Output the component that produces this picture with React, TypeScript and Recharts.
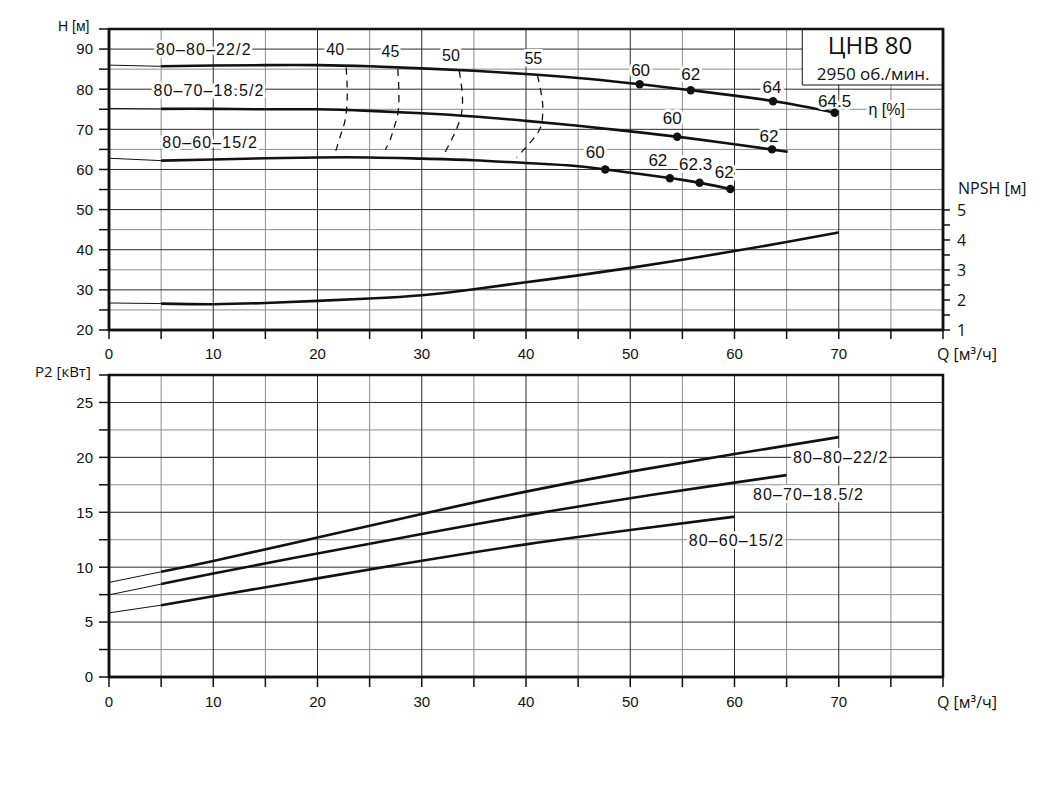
import React from "react";
import { ComposedChart, Line, XAxis, YAxis, CartesianGrid, ReferenceArea } from "recharts";

// ---- axes ----
const qTicks = [0, 5, 10, 15, 20, 25, 30, 35, 40, 45, 50, 55, 60, 65, 70, 75, 80];
const qMajor = [10, 20, 30, 40, 50, 60, 70];
const qMinor = [5, 15, 25, 35, 45, 55, 65, 75];
const hTicks = [20, 25, 30, 35, 40, 45, 50, 55, 60, 65, 70, 75, 80, 85, 90, 95];
const hMajor = [30, 40, 50, 60, 70, 80, 90];
const hMinor = [25, 35, 45, 55, 65, 75, 85];
const npshTicks = [1, 1.5, 2, 2.5, 3, 3.5, 4, 4.5, 5];
const pTicks = [0, 2.5, 5, 7.5, 10, 12.5, 15, 17.5, 20, 22.5, 25, 27.5];
const pMajor = [5, 10, 15, 20, 25];
const pMinor = [2.5, 7.5, 12.5, 17.5, 22.5];

// ---- H(Q) curves ----
const h22Lead = [{ q: 0, h: 86.0 }, { q: 5, h: 85.7 }];
const h22 = [
  { q: 5, h: 85.7 }, { q: 10, h: 85.9 }, { q: 15, h: 86.0 }, { q: 20, h: 86.0 },
  { q: 25, h: 85.7 }, { q: 30, h: 85.2 }, { q: 35, h: 84.6 }, { q: 40, h: 83.8 },
  { q: 45, h: 82.8 }, { q: 50, h: 81.5 }, { q: 55, h: 80.0 }, { q: 60, h: 78.4 },
  { q: 65, h: 76.5 }, { q: 69.6, h: 74.15 },
];
const h185Lead = [{ q: 0, h: 75.2 }, { q: 5, h: 75.1 }];
const h185 = [
  { q: 5, h: 75.1 }, { q: 10, h: 75.1 }, { q: 15, h: 75.0 }, { q: 20, h: 75.0 },
  { q: 25, h: 74.6 }, { q: 30, h: 74.0 }, { q: 35, h: 73.2 }, { q: 40, h: 72.1 },
  { q: 45, h: 70.9 }, { q: 50, h: 69.5 }, { q: 55, h: 68.0 }, { q: 60, h: 66.3 },
  { q: 65.1, h: 64.4 },
];
const h15Lead = [{ q: 0, h: 62.8 }, { q: 5, h: 62.2 }];
const h15 = [
  { q: 5, h: 62.2 }, { q: 10, h: 62.5 }, { q: 15, h: 62.8 }, { q: 20, h: 63.0 },
  { q: 25, h: 63.0 }, { q: 30, h: 62.7 }, { q: 35, h: 62.3 }, { q: 40, h: 61.6 },
  { q: 45, h: 60.8 }, { q: 50, h: 59.2 }, { q: 55, h: 57.4 }, { q: 59.6, h: 55.15 },
];

// ---- efficiency points ----
const eff22 = [
  { q: 50.9, h: 81.25, eta: "60" }, { q: 55.8, h: 79.75, eta: "62" },
  { q: 63.7, h: 77.0, eta: "64" }, { q: 69.6, h: 74.15, eta: "64.5" },
];
const eff185 = [{ q: 54.5, h: 68.15, eta: "60" }, { q: 63.6, h: 65.0, eta: "62" }];
const eff15 = [
  { q: 47.6, h: 60.0, eta: "60" }, { q: 53.8, h: 57.8, eta: "62" },
  { q: 56.65, h: 56.7, eta: "62.3" }, { q: 59.6, h: 55.15, eta: "62" },
];
// label offsets (px) relative to each dot
const eff22Off = [[1, -14], [0, -16], [-1, -14], [0, -11]];
const eff185Off = [[-5, -18], [-3, -13]];
const eff15Off = [[-10, -17], [-12, -18], [-4, -18], [-6, -16]];

// ---- iso-efficiency lines ----
const iso40 = [
  { q: 22.75, h: 85.4 }, { q: 22.85, h: 80.0 }, { q: 22.8, h: 75.2 },
  { q: 22.6, h: 71.7 }, { q: 22.2, h: 68.4 }, { q: 21.6, h: 63.2 },
];
const iso45 = [
  { q: 27.7, h: 85.0 }, { q: 27.8, h: 80.0 }, { q: 27.75, h: 74.6 },
  { q: 27.4, h: 70.9 }, { q: 27.0, h: 67.6 }, { q: 26.5, h: 64.9 },
];
const iso50 = [
  { q: 33.6, h: 84.6 }, { q: 33.9, h: 78.4 }, { q: 33.8, h: 73.8 },
  { q: 33.4, h: 70.5 }, { q: 32.9, h: 67.6 }, { q: 32.2, h: 64.1 },
];
const iso55 = [
  { q: 41.1, h: 83.5 }, { q: 41.55, h: 77.5 }, { q: 41.6, h: 73.8 },
  { q: 41.4, h: 70.5 }, { q: 40.7, h: 67.6 }, { q: 40.0, h: 65.5 }, { q: 39.1, h: 63.0 },
];
const isoLabels = [
  { q: 21.7, h: 90.0, text: "40" }, { q: 27.0, h: 89.4, text: "45" },
  { q: 32.8, h: 88.4, text: "50" }, { q: 40.7, h: 87.6, text: "55" },
];
const modelLabelsTop = [
  { q: 9.1, h: 90.0, text: "80–80–22/2" },
  { q: 9.6, h: 79.8, text: "80–70–18.5/2" },
  { q: 9.7, h: 66.6, text: "80–60–15/2" },
];
const etaLabel = [{ q: 74.6, h: 75.0, text: "η [%]" }];
const boxTitle = [{ q: 73.0, h: 91.2, text: "ЦНВ 80" }];
const boxSpeed = [{ q: 73.3, h: 84.0, text: "2950 об./мин." }];

// ---- NPSH ----
const npshLead = [{ q: 0, n: 1.9 }, { q: 5, n: 1.88 }];
const npsh = [
  { q: 5, n: 1.88 }, { q: 10, n: 1.86 }, { q: 15, n: 1.9 }, { q: 20, n: 1.97 },
  { q: 25, n: 2.05 }, { q: 30, n: 2.16 }, { q: 35, n: 2.36 }, { q: 40, n: 2.59 },
  { q: 45, n: 2.82 }, { q: 50, n: 3.07 }, { q: 55, n: 3.34 }, { q: 60, n: 3.63 },
  { q: 65, n: 3.93 }, { q: 70, n: 4.25 },
];

// ---- P2 ----
const p22Lead = [{ q: 0, p: 8.61 }, { q: 5, p: 9.58 }];
const p22 = [
  { q: 5, p: 9.58 }, { q: 10, p: 10.56 }, { q: 20, p: 12.7 }, { q: 30, p: 14.84 },
  { q: 40, p: 16.88 }, { q: 50, p: 18.7 }, { q: 60, p: 20.3 }, { q: 70, p: 21.84 },
];
const p185Lead = [{ q: 0, p: 7.48 }, { q: 5, p: 8.46 }];
const p185 = [
  { q: 5, p: 8.46 }, { q: 10, p: 9.43 }, { q: 20, p: 11.25 }, { q: 30, p: 13.02 },
  { q: 40, p: 14.72 }, { q: 50, p: 16.28 }, { q: 60, p: 17.7 }, { q: 65, p: 18.38 },
];
const p15Lead = [{ q: 0, p: 5.84 }, { q: 5, p: 6.54 }];
const p15 = [
  { q: 5, p: 6.54 }, { q: 10, p: 7.36 }, { q: 20, p: 8.98 }, { q: 30, p: 10.58 },
  { q: 40, p: 12.08 }, { q: 50, p: 13.38 }, { q: 60, p: 14.6 },
];
const modelLabelsBottom = [
  { q: 70.2, p: 19.96, text: "80–80–22/2" },
  { q: 67.1, p: 16.6, text: "80–70–18.5/2" },
  { q: 60.2, p: 12.45, text: "80–60–15/2" },
];

const INK = "#111";
const SANS = "'Liberation Sans', Arial, sans-serif";
const MYRIAD = "'Open Sans', 'Noto Sans', sans-serif";

const halo = { stroke: "#fff", strokeWidth: 6, paintOrder: "stroke" as const, strokeLinejoin: "round" as const };

function textDot(size: number, font: string, spacing = 0, withHalo = true) {
  return (props: any) => {
    const { cx, cy, payload, index } = props;
    if (cx == null || cy == null) return <g key={`t${index}`} />;
    return (
      <text
        key={`t${index}`}
        x={cx}
        y={cy}
        textAnchor="middle"
        dominantBaseline="central"
        fontSize={size}
        fontFamily={font}
        letterSpacing={spacing}
        fill={INK}
        {...(withHalo ? halo : {})}
      >
        {payload.text}
      </text>
    );
  };
}

function effDot(offsets: number[][]) {
  return (props: any) => {
    const { cx, cy, payload, index } = props;
    if (cx == null || cy == null) return <g key={`e${index}`} />;
    const [dx, dy] = offsets[index] ?? [0, -15];
    return (
      <g key={`e${index}`}>
        <text
          x={cx + dx}
          y={cy + dy}
          textAnchor="middle"
          dominantBaseline="central"
          fontSize={17}
          fontFamily={SANS}
          fill={INK}
          {...halo}
        >
          {payload.eta}
        </text>
        <circle cx={cx} cy={cy} r={4.2} fill={INK} />
      </g>
    );
  };
}

const thin = { stroke: INK, strokeWidth: 1, dot: false, activeDot: false, isAnimationActive: false, type: "monotone" as const };
const thick = { stroke: INK, strokeWidth: 2.6, dot: false, activeDot: false, isAnimationActive: false, type: "monotone" as const };
const thickSmooth = { ...thick, type: "natural" as const };
const dashed = { stroke: INK, strokeWidth: 1.3, strokeDasharray: "7 6", dot: false, activeDot: false, isAnimationActive: false, type: "natural" as const };
const onlyDots = { stroke: "none", activeDot: false, isAnimationActive: false };

const qFmt = (v: number) => (v % 10 === 0 && v < 80 ? String(v) : "");

const axisTickStyle = { fontSize: 15, fill: INK, fontFamily: SANS };

const overlay = (style: React.CSSProperties, text: string) => (
  <div style={{ position: "absolute", whiteSpace: "nowrap", lineHeight: 1, color: INK, ...style }}>{text}</div>
);

export default function App() {
  return (
    <div style={{ position: "absolute", left: 0, top: 0, width: 1060, height: 803, background: "#fff" }}>
      <div style={{ position: "absolute", left: 0, top: 0 }}>
        <ComposedChart width={1060} height={380} margin={{ top: 29, right: 0, left: 0, bottom: 0 }}>
          <CartesianGrid yAxisId="h" horizontalValues={hMinor} verticalValues={qMinor} stroke="#8c8c8c" strokeWidth={1} />
          <CartesianGrid yAxisId="h" horizontalValues={hMajor} verticalValues={qMajor} stroke="#2a2a2a" strokeWidth={1} />
          <XAxis
            type="number"
            dataKey="q"
            domain={[0, 80]}
            ticks={qTicks}
            tickFormatter={qFmt}
            interval={0}
            allowDataOverflow
            height={50}
            tickSize={9}
            tickMargin={9}
            tick={axisTickStyle}
            axisLine={{ stroke: INK, strokeWidth: 2.5 }}
            tickLine={{ stroke: INK, strokeWidth: 1.5 }}
          />
          <YAxis
            yAxisId="h"
            type="number"
            domain={[20, 95]}
            ticks={hTicks}
            tickFormatter={(v: number) => (v % 10 === 0 ? String(v) : "")}
            interval={0}
            allowDataOverflow
            width={109}
            tickSize={10}
            tickMargin={6}
            tick={axisTickStyle}
            axisLine={{ stroke: INK, strokeWidth: 2.5 }}
            tickLine={{ stroke: INK, strokeWidth: 1.5 }}
          />
          <YAxis
            yAxisId="n"
            orientation="right"
            type="number"
            domain={[1, 11.03]}
            ticks={npshTicks}
            tickFormatter={(v: number) => (Number.isInteger(v) ? String(v) : "")}
            interval={0}
            allowDataOverflow
            width={117}
            tickSize={7}
            tickMargin={7}
            tick={{ fontSize: 16, fill: INK, fontFamily: MYRIAD }}
            axisLine={{ stroke: INK, strokeWidth: 2.5 }}
            tickLine={{ stroke: INK, strokeWidth: 1.5 }}
          />
          <ReferenceArea yAxisId="h" x1={66.5} x2={80} y1={81.05} y2={95} fill="#fff" fillOpacity={1} stroke={INK} strokeWidth={1} ifOverflow="hidden" />
          <ReferenceArea yAxisId="h" x1={0} x2={80} y1={20} y2={95} fill="none" stroke={INK} strokeWidth={2.5} />

          <Line yAxisId="h" data={iso40} dataKey="h" {...dashed} />
          <Line yAxisId="h" data={iso45} dataKey="h" {...dashed} />
          <Line yAxisId="h" data={iso50} dataKey="h" {...dashed} />
          <Line yAxisId="h" data={iso55} dataKey="h" {...dashed} />

          <Line yAxisId="h" data={h22Lead} dataKey="h" {...thin} />
          <Line yAxisId="h" data={h22} dataKey="h" {...thickSmooth} />
          <Line yAxisId="h" data={h185Lead} dataKey="h" {...thin} />
          <Line yAxisId="h" data={h185} dataKey="h" {...thickSmooth} />
          <Line yAxisId="h" data={h15Lead} dataKey="h" {...thin} />
          <Line yAxisId="h" data={h15} dataKey="h" {...thickSmooth} />

          <Line yAxisId="n" data={npshLead} dataKey="n" {...thin} />
          <Line yAxisId="n" data={npsh} dataKey="n" {...thickSmooth} />

          <Line yAxisId="h" data={eff22} dataKey="h" {...onlyDots} dot={effDot(eff22Off)} />
          <Line yAxisId="h" data={eff185} dataKey="h" {...onlyDots} dot={effDot(eff185Off)} />
          <Line yAxisId="h" data={eff15} dataKey="h" {...onlyDots} dot={effDot(eff15Off)} />

          <Line yAxisId="h" data={isoLabels} dataKey="h" {...onlyDots} dot={textDot(16, SANS)} />
          <Line yAxisId="h" data={modelLabelsTop} dataKey="h" {...onlyDots} dot={textDot(16, SANS, 1.1)} />
          <Line yAxisId="h" data={etaLabel} dataKey="h" {...onlyDots} dot={textDot(16, SANS)} />
          <Line yAxisId="h" data={boxTitle} dataKey="h" {...onlyDots} dot={textDot(24, MYRIAD, 0, false)} />
          <Line yAxisId="h" data={boxSpeed} dataKey="h" {...onlyDots} dot={textDot(17, MYRIAD, 0, false)} />
        </ComposedChart>
      </div>

      <div style={{ position: "absolute", left: 0, top: 340 }}>
        <ComposedChart width={1060} height={400} margin={{ top: 35, right: 117, left: 0, bottom: 0 }}>
          <CartesianGrid horizontalValues={pMinor} verticalValues={qMinor} stroke="#8c8c8c" strokeWidth={1} />
          <CartesianGrid horizontalValues={pMajor} verticalValues={qMajor} stroke="#2a2a2a" strokeWidth={1} />
          <XAxis
            type="number"
            dataKey="q"
            domain={[0, 80]}
            ticks={qTicks}
            tickFormatter={qFmt}
            interval={0}
            allowDataOverflow
            height={63}
            tickSize={10}
            tickMargin={9}
            tick={axisTickStyle}
            axisLine={{ stroke: INK, strokeWidth: 2.5 }}
            tickLine={{ stroke: INK, strokeWidth: 1.5 }}
          />
          <YAxis
            type="number"
            domain={[0, 27.5]}
            ticks={pTicks}
            tickFormatter={(v: number) => (v % 5 === 0 ? String(v) : "")}
            interval={0}
            allowDataOverflow
            width={109}
            tickSize={10}
            tickMargin={6}
            tick={axisTickStyle}
            axisLine={{ stroke: INK, strokeWidth: 2.5 }}
            tickLine={{ stroke: INK, strokeWidth: 1.5 }}
          />
          <ReferenceArea x1={0} x2={80} y1={0} y2={27.5} fill="none" stroke={INK} strokeWidth={2.5} />

          <Line data={p22Lead} dataKey="p" {...thin} />
          <Line data={p22} dataKey="p" {...thickSmooth} />
          <Line data={p185Lead} dataKey="p" {...thin} />
          <Line data={p185} dataKey="p" {...thickSmooth} />
          <Line data={p15Lead} dataKey="p" {...thin} />
          <Line data={p15} dataKey="p" {...thickSmooth} />

          <Line data={modelLabelsBottom} dataKey="p" {...onlyDots} dot={textDot(16, SANS, 1.1)} />
        </ComposedChart>
      </div>

      {overlay({ left: 58, top: 19, fontSize: 14, fontFamily: SANS }, "H [м]")}
      {overlay({ left: 958, top: 180, fontSize: 16, fontFamily: MYRIAD }, "NPSH [м]")}
      {overlay({ left: 937, top: 346, fontSize: 16, fontFamily: MYRIAD }, "Q [м³/ч]")}
      {overlay({ left: 35, top: 364, fontSize: 15, fontFamily: MYRIAD }, "P2 [кВт]")}
      {overlay({ left: 937, top: 694, fontSize: 16, fontFamily: MYRIAD }, "Q [м³/ч]")}
    </div>
  );
}
